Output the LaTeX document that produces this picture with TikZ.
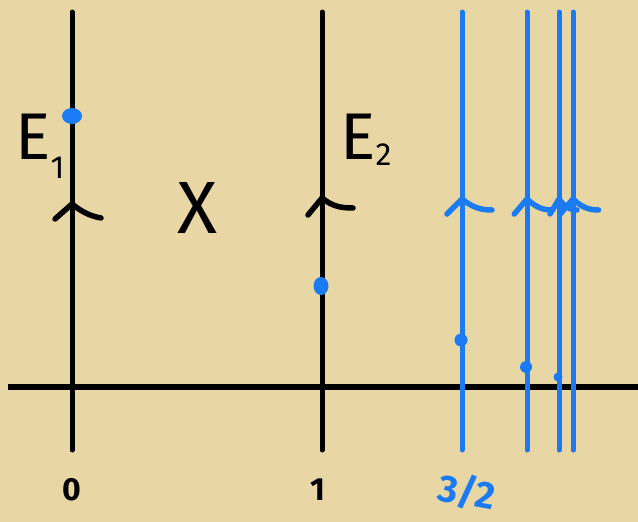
\documentclass[tikz,border=0pt]{standalone}
\usepackage{fontspec}
\setmainfont{Fira Sans}
\usepackage{tikz}
\usetikzlibrary{arrows.meta,positioning,calc}
\definecolor{parchment}{HTML}{E8D6A4}
\definecolor{pen-blue}{HTML}{1A7BF5}
\tikzset{
  stroke/.style={line width=5pt,line cap=round},
  chev/.style={line width=5.5pt,line cap=round,line join=round},
  hand/.style={font=\fontsize{66}{66}\selectfont,inner sep=0pt},
  tick/.style={font=\fontsize{32}{32}\selectfont\bfseries,inner sep=0pt}
}

\begin{document}
\begin{tikzpicture}[x=1pt,y=-1pt]
  \fill[parchment] (0,0) rectangle (638,522);
  \useasboundingbox (0,0) rectangle (638,522);
  % axis and the two black fibres
  \draw[stroke,line width=6pt,line cap=butt] (8,387) -- (638,387);
  \foreach \x/\n in {72/zero, 322/one}{
    \coordinate (\n-top) at (\x,12); \coordinate (\n-bot) at (\x,450);
    \draw[stroke] (\n-top) -- (\n-bot);
  }
  \draw[chev] (55,219) -- (72,204) .. controls (82,212) and (90,216) .. (101,218);
  \draw[chev] (308,215) -- (322,198) .. controls (332,206) and (340,208) .. (353,208);
  \fill[pen-blue] (72,116) ellipse (10 and 8);
  \fill[pen-blue] (321,286) ellipse (7.5 and 9);
  % blue fibres
  \foreach \x/\d/\r/\s [count=\i] in {462/340/6.5/1, 527/367/6/0.85, 559/377/4.5/0.6, 573/0/0/0.85}{
    \coordinate (b\i-top) at (\x,12); \coordinate (b\i-bot) at (\x,450);
    \draw[stroke,pen-blue] (b\i-top) -- (b\i-bot);
    \draw[chev,pen-blue] ($(\x,199)+(-15*\s,15)$) -- (\x,199)
      .. controls ($(\x,199)+(10*\s,8)$) and ($(\x,199)+(18*\s,11)$) .. ($(\x,199)+(30*\s,11)$);
    \ifdim\r pt>0pt \fill[pen-blue] (\x-1,\d) circle (\r); \fi
  }
  % labels
  \node[hand,anchor=base west] (e1) at (15,159) {E\raisebox{-0.3em}{\fontsize{32}{32}\selectfont 1}};
  \node[hand,anchor=base west] (e2) at (340,159) {E\raisebox{-0.1em}{\fontsize{32}{32}\selectfont 2}};
  \node[hand,font=\fontsize{74}{74}\selectfont] (space) at (197,208) {X};
  \node[tick] (lab0) at (72,490) {0};
  \node[tick] (lab1) at (318,490) {1};
  \node[tick,text=pen-blue,font=\fontsize{38}{38}\selectfont\bfseries,rotate=-10] (lab32) at (467,492) {3/2};
\end{tikzpicture}
\end{document}
